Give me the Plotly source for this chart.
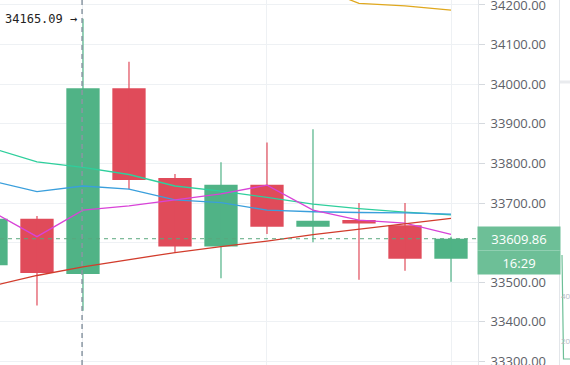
import plotly.graph_objects as go

# ---- data ----
idx = [0, 1, 2, 3, 4, 5, 6, 7, 8, 9, 10]
open_ = [33543, 33660, 33521, 33990, 33763, 33590, 33746, 33640, 33657, 33644, 33559]
close = [33660, 33523, 33990, 33758, 33590, 33746, 33640, 33655, 33648, 33559, 33609.86]
high = [33680, 33667, 34165.09, 34057, 33773, 33803, 33853, 33886, 33700, 33700, 33615]
low = [33520, 33441, 33428, 33735, 33575, 33510, 33622, 33601, 33506, 33529, 33501]

ma_green = [33839, 33804, 33790, 33772, 33743, 33730, 33714, 33697, 33686, 33677, 33670]
ma_blue = [33756, 33729, 33743, 33735, 33708, 33701, 33682, 33678, 33676, 33675, 33672]
ma_magenta = [33680, 33615, 33682, 33693, 33708, 33723, 33745, 33682, 33657, 33649, 33621]
ma_red = [33490, 33517, 33539, 33557, 33575, 33590, 33604, 33620, 33634, 33648, 33661]
orange_x = [7, 8, 9, 10]
ma_orange = [34250, 34204, 34198, 34187]

y_ticks = [33300, 33400, 33500, 33600, 33700, 33800, 33900, 34000, 34100, 34200]
hidden_tick = 33600  # covered by the last-price label
last_price = 33609.86
countdown = "16:29"
high_mark = 34165.09
high_idx = 2
side_labels = ["40", "20"]

GREEN = "#50b386"
RED = "#e04b5a"

fig = go.Figure()

up = [i for i in idx if close[i] >= open_[i]]
dn = [i for i in idx if close[i] < open_[i]]

def wick(ids):
    xs, ys = [], []
    for i in ids:
        xs += [idx[i], idx[i], None]
        ys += [low[i], high[i], None]
    return xs, ys

for ids, col in ((up, GREEN), (dn, RED)):
    wx, wy = wick(ids)
    fig.add_trace(go.Scatter(x=wx, y=wy, mode="lines", line=dict(color=col, width=1.2),
                             hoverinfo="skip", showlegend=False))
    fig.add_trace(go.Bar(x=[idx[i] for i in ids],
                         y=[abs(close[i] - open_[i]) for i in ids],
                         base=[min(open_[i], close[i]) for i in ids],
                         width=0.724, marker=dict(color=col, line=dict(width=0)),
                         showlegend=False))

for vals, col in ((ma_green, "#2ecf9c"), (ma_blue, "#3a9fdc"),
                  (ma_magenta, "#d843d8"), (ma_red, "#d23c2c")):
    fig.add_trace(go.Scatter(x=idx, y=vals, mode="lines",
                             line=dict(color=col, width=1.3), showlegend=False))
fig.add_trace(go.Scatter(x=orange_x, y=ma_orange, mode="lines",
                         line=dict(color="#e0a81e", width=1.3), showlegend=False))

# last price dashed line
fig.add_shape(type="line", xref="paper", x0=0, x1=1, yref="y", y0=last_price, y1=last_price,
              line=dict(color="#5aa87e", width=1, dash="4px,4px"))
# vertical crosshair dashed line
fig.add_shape(type="line", xref="x", x0=high_idx - 0.02, x1=high_idx - 0.02, yref="paper", y0=0, y1=1,
              line=dict(color="#8a97a3", width=1.5, dash="5px,4px"))

fig.add_annotation(x=high_idx, y=high_mark, xref="x", yref="y", text=f"{high_mark:.2f} →",
                   showarrow=False, xanchor="right", xshift=-4,
                   font=dict(family="DejaVu Sans Mono", size=12, color="#222222"))

# price label boxes
fig.add_annotation(x=1, xref="paper", y=last_price, yref="y", text=f"{last_price:.2f}",
                   showarrow=False, xanchor="left", yanchor="middle", xshift=-1,
                   width=80, height=21, borderpad=1, bgcolor="#6dbf97",
                   font=dict(family="Open Sans", size=13, color="white"))
fig.add_annotation(x=1, xref="paper", y=last_price, yref="y", text=countdown,
                   showarrow=False, xanchor="left", yanchor="middle", xshift=-1, yshift=-24,
                   width=80, height=21, borderpad=1, bgcolor="#6dbf97",
                   font=dict(family="Open Sans", size=13, color="white"))

# partial neighbouring panel at right edge
W = 478.0
H = 365.0
def px(x):
    return x / W
def py(y):
    return 1 - y / H
fig.add_shape(type="line", xref="paper", yref="paper", x0=px(559.5), x1=px(559.5), y0=0, y1=1,
              line=dict(color="#e3e6ea", width=1))
fig.add_shape(type="line", xref="paper", yref="paper", x0=px(560), x1=px(570), y0=py(82), y1=py(82),
              line=dict(color="#e9ebee", width=3))
fig.add_shape(type="path", xref="paper", yref="paper",
              path=f"M {px(562)} {py(255)} L {px(563.5)} {py(359)} L {px(571)} {py(359)}",
              line=dict(color="#6dbf97", width=1.2))
for t, yy in zip(side_labels, (295, 340)):
    fig.add_annotation(x=px(559.5), y=py(yy), xref="paper", yref="paper", text=t, showarrow=False,
                       xanchor="left", yanchor="middle", borderpad=0,
                       font=dict(family="Open Sans", size=8, color="#b5bac1"))

fig.update_layout(
    width=570, height=365,
    margin=dict(l=0, r=92, t=0, b=0, autoexpand=False),
    paper_bgcolor="white", plot_bgcolor="white",
    barmode="overlay", showlegend=False,
    xaxis=dict(range=[0.196, 10.587], tickvals=[2, 6, 10], showticklabels=False,
               showgrid=True, gridcolor="#eef1f4", gridwidth=1, zeroline=False,
               fixedrange=True, automargin=False),
    yaxis=dict(side="right", range=[33291, 34212.6], tickvals=y_ticks,
               ticktext=["" if v == hidden_tick else f"{v:.2f}" for v in y_ticks],
               showgrid=True, gridcolor="#eef1f4", gridwidth=1, zeroline=False,
               showline=True, linecolor="#e3e6ea", linewidth=1,
               ticks="outside", ticklen=6, tickcolor="#d5d9de",
               tickfont=dict(family="Open Sans", size=13, color="#5d6168"),
               ticklabelstandoff=3, ticklabeloverflow="allow", automargin=False),
)

fig.write_html("out.html")
